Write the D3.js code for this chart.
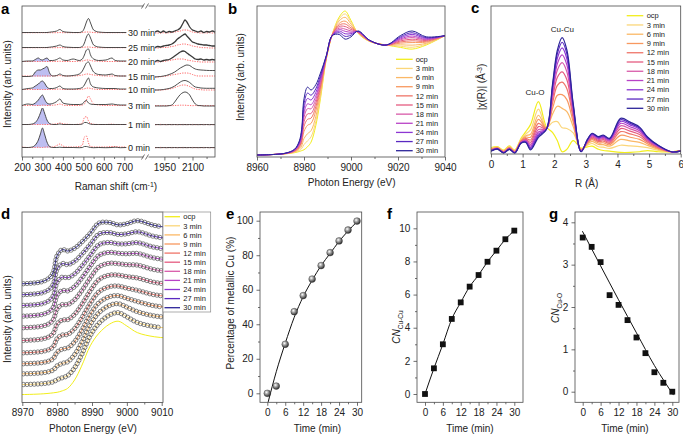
<!DOCTYPE html>
<html><head><meta charset="utf-8">
<script src="https://cdn.jsdelivr.net/npm/d3@7"></script>
<style>body{margin:0;background:#fff}svg{display:block}</style>
</head><body>
<svg id="fig" width="683" height="436"></svg>
<script>
// ---------------- DATA ----------------
const seriesLabels = ["ocp","3 min","6 min","9 min","12 min","15 min","18 min","21 min","24 min","27 min","30 min"];
const seriesColors = ["#f2ee1c","#fbd67a","#fbb866","#f8985f","#ef7569","#e55b80","#d85aa9","#b842c6","#8d36d3","#5a29c0","#2c2499"];

// Panel a: Raman
const ramanLabels = ["0 min","1 min","3 min","10 min","15 min","20 min","25 min","30 min"];
const ramanOffsets = [9, 32, 51, 67, 80, 95, 109, 124];
const ramanFilled = [true, true, true, true, true, true, false, false];
const ramanFillRange = [250, 342];
const ramanLeftTicks = [200, 300, 400, 500, 600, 700];
const ramanRightTicks = [1950, 2100];
const ramanLeftX = [200,230,250,265,280,290,300,310,322,335,350,370,385,400,420,450,480,495,505,515,525,535,550,575,610,640,655,680,710];
const ramanBlackL = [
  [0.5,0.5,1,3,8,14,20,14,6,1.5, 0.5,0.5,0.8,0.5,0.5,0.5,0.3,0.5,1.5,1.5, 1,0.5,0.3,0.5,0.3,0.5,0.8,0.3,0.5],
  [0.5,0.5,1,2.5,7,12,17,12,5,1.5, 0.5,0.5,1,0.5,0.5,0.5,0.5,1,2.5,2.5, 1.5,0.8,0.5,0.5,0.5,0.5,0.5,0.5,0.5],
  [0.5,2,1.5,3,6,9,11,7,3,2, 2.5,4.5,7,3,2,1.5,1.5,2,4.5,5.5, 3,2,1.5,1.5,1.5,2,1.5,1,1],
  [0.5,1.5,2,4,6,8,9,7,3,1.5, 1.5,2.5,4,1.5,1,1,1.5,2.5,5,9, 12,6,3,2,1.5,1.5,1.5,1,1],
  [0.5,0.5,1,5,7,7,8,9,10.5,4, 1,1.5,3,1.5,1,1.5,3,6,10,14, 15,11,5,2.5,2,3,1.5,1,1],
  [0.5,1,1,2.5,4,2.5,2,3,4,1.5, 1.5,2.5,4,2,1.5,3,1.5,3,7,12, 13,7,3,1.5,2,4,1.5,1,1],
  [0.5,0.5,0.5,0.5,0.5,0.5,0.5,0.5,0.5,0.8, 1.2,2,3,1.5,0.8,0.5,0.5,1.5,5,11, 14,10,3,1,0.5,0.5,0.5,0.5,0.5],
  [0.5,0.5,0.5,0.5,0.5,0.5,0.5,0.5,0.5,0.8, 1.2,2,3.5,1.5,0.8,0.5,0.5,1.5,5,11, 14.5,10,3,1,0.5,0.5,0.5,0.5,0.5]
];
const ramanRedL = [
  [1,0.5,0.5,0.5,0.8,0.5,0.5,0.8,1,1, 1,2.5,4,2,1,1,1.5,3,11,12, 5,1.5,1,1,1,1.5,1.5,1,1],
  [0.5,0.5,0.5,0.5,0.5,0.5,0.5,0.5,0.5,0.5, 0.8,1.2,2,1.2,0.8,0.5,0.8,2,7.5,8.5, 4,1.5,0.8,0.5,0.5,0.8,0.5,0.5,0.5],
  [0.5,0.5,0.5,0.5,0.5,0.5,0.8,0.8,0.5,0.5, 0.8,1.2,2,1,0.5,0.5,0.5,1,2,6, 10,7,2,1,0.5,0.5,0.5,0.5,0.5],
  [0.5,0.5,0.5,0.5,0.5,0.5,0.5,0.5,0.5,0.5, 0.5,0.8,1,0.5,0.5,0.5,0.5,0.8,1.2,1.8, 2,1.5,1,0.5,0.5,0.5,0.5,0.5,0.5],
  [1,1,1,1,1,1,1,1,1,1, 1,1.2,1.5,1,1,1,1.5,2,2.5,3, 3,2.5,2,1.5,1,1,1,1,1],
  [0.5,0.5,0.5,0.5,0.5,0.5,0.5,0.5,0.5,0.5, 0.5,0.6,0.8,0.5,0.5,0.5,0.8,1,1.5,2, 2,1.5,1,0.8,0.5,0.5,0.5,0.5,0.5],
  [0.3,0.3,0.3,0.3,0.3,0.3,0.3,0.3,0.3,0.3, 0.3,0.3,0.5,0.3,0.3,0.3,0.3,0.5,0.8,1, 1,0.8,0.5,0.3,0.3,0.3,0.3,0.3,0.3],
  [0.3,0.3,0.3,0.3,0.3,0.3,0.3,0.3,0.3,0.3, 0.3,0.3,0.5,0.3,0.3,0.3,0.3,0.5,0.8,1, 1,0.8,0.5,0.3,0.3,0.3,0.3,0.3,0.3]
];
const ramanRightX = [1900,1915,1930,1945,1960,1975,1990,2005,2020,2035,2050,2060,2070,2085,2100,2115,2130,2145,2160,2175,2190,2205,2220];
const ramanBlackR = [
  [0.3,0.5,0.3,0.5,0.3,0.5,0.3,0.5,0.3,0.5, 0.3,0.5,0.3,0.5,0.3,0.5,0.3,0.5,0.3,0.5, 0.3,0.5,0.3],
  [0.3,0.5,0.3,0.5,0.3,0.5,0.3,0.5,0.3,0.5, 0.3,0.5,0.3,0.5,0.3,0.5,0.3,0.5,0.3,0.5, 0.3,0.5,0.3],
  [0,0,0,0,0,0.3,1,4,8,11.5, 13.5,14,13.5,11,6,2,0.5,0.3,0,0, 0,0,0],
  [0,0,0.2,0.5,1,1.5,2.5,4,6,8, 9.3,9.5,9,7.5,5,3,2.5,2,1.8,1.7, 1.7,1.7,1.7],
  [0,0.3,0.5,1,1.5,2.5,3.5,5,7,9, 10.5,11.5,12,11.5,9.5,8,7.3,7,6.8,6.6, 6.5,6.5,6.5],
  [0.5,1.5,0.5,1.5,2,2.5,4,6,8,10, 11,10.5,9,7,5,3,2.5,3,2,2.5, 2,2.5,2],
  [0.5,1.5,1,2,2.5,3,4,6,9,11, 13,14,12,9,6,5,4,3.5,3,3, 2.5,2,2],
  [1,2,0.5,2,0.5,1.5,1,2,3,5, 10,13,11,6,3,2,1,2,0.5,1.5, 1,2,0.8]
];
const ramanRedR = [
  [0.5,0.3,0.6,0.3,0.5,0.3,0.6,0.3,0.5,0.3, 0.6,0.3,0.5,0.3,0.6,0.3,0.5,0.3,0.6,0.3, 0.5,0.3,0.6],
  [0.5,0.3,0.6,0.3,0.5,0.3,0.6,0.3,0.5,0.3, 0.6,0.3,0.5,0.3,0.6,0.3,0.5,0.3,0.6,0.3, 0.5,0.3,0.6],
  [0.3,0.5,0.3,0.5,0.3,0.5,0.3,0.5,0.6,0.8, 0.8,0.8,0.6,0.5,0.3,0.5,0.3,0.5,0.3,0.5, 0.3,0.5,0.3],
  [0,0,0,0.2,0.5,1,1.5,2.5,3.5,4.5, 5,5,4.5,3.5,2,1,0.5,0.3,0,0, 0,0,0],
  [0,0,0.3,0.5,1,1.5,2,2.5,3,3.5, 4,4,4,3.5,2.5,1.5,1,1,1,1, 1,1,1],
  [0,0,0.3,0.5,1,1.5,2,2.5,3,3, 3,2.5,2,1.5,1,0.5,0.3,0,0,0, 0,0,0],
  [0,0,0.3,0.5,0.5,1,1.5,2,3,3.5, 4,4,3.5,3,2,1.5,1,0.5,0.3,0.3, 0,0,0],
  [0,0,0,0.3,0,0.3,0.5,1,1.5,2, 3,3,3,2,1,0.5,0.3,0,0.3,0, 0.3,0,0]
];

// Panel b / d: normalized XANES
const xanesEnergy = [8960,8972,8976,8978,8979,8980,8981.5,8983,8985,8987,8989.5,8992,8995,8997.5,9000,9003,9008,9015,9021,9026,9032,9040];
const xanesSeries = [
  [0,0.01,0.02,0.03,0.037,0.045,0.07,0.11,0.25,0.48,0.82,1.03,1.18,1.23,1.15,1.04,0.97,0.94,0.92,0.905,0.94,1.02],
  [0,0.01,0.023,0.039,0.055,0.089,0.121,0.155,0.285,0.502,0.823,1.029,1.165,1.206,1.136,1.042,0.971,0.94,0.93,0.921,0.947,1.02],
  [0,0.011,0.027,0.05,0.077,0.141,0.182,0.208,0.327,0.528,0.827,1.028,1.147,1.177,1.119,1.044,0.972,0.94,0.942,0.939,0.955,1.02],
  [0,0.012,0.031,0.062,0.103,0.202,0.254,0.27,0.376,0.559,0.831,1.026,1.126,1.144,1.1,1.047,0.974,0.94,0.956,0.961,0.965,1.02],
  [0,0.012,0.034,0.071,0.121,0.245,0.305,0.315,0.411,0.581,0.834,1.025,1.111,1.12,1.086,1.049,0.975,0.94,0.966,0.976,0.972,1.02],
  [0,0.013,0.037,0.08,0.138,0.284,0.351,0.355,0.443,0.601,0.837,1.025,1.098,1.098,1.073,1.051,0.976,0.94,0.975,0.99,0.979,1.02],
  [0,0.013,0.039,0.088,0.154,0.323,0.396,0.395,0.474,0.621,0.839,1.024,1.084,1.076,1.06,1.053,0.976,0.94,0.984,1.004,0.985,1.02],
  [0,0.014,0.042,0.095,0.169,0.358,0.437,0.43,0.502,0.638,0.842,1.023,1.072,1.057,1.049,1.054,0.977,0.94,0.992,1.017,0.99,1.02],
  [0,0.014,0.044,0.103,0.185,0.397,0.483,0.47,0.534,0.658,0.844,1.022,1.059,1.036,1.037,1.056,0.978,0.94,1.001,1.031,0.997,1.02],
  [0,0.015,0.047,0.111,0.202,0.437,0.529,0.511,0.565,0.678,0.847,1.021,1.045,1.014,1.024,1.058,0.979,0.94,1.01,1.045,1.003,1.02],
  [0,0.015,0.05,0.12,0.22,0.48,0.58,0.555,0.6,0.7,0.85,1.02,1.03,0.99,1.01,1.06,0.98,0.94,1.02,1.06,1.01,1.02]
];
const xanesBTicks = [8960, 8980, 9000, 9020, 9040];
const xanesDTicks = [8970, 8980, 8990, 9000, 9010];
const xanesDOffsets = [0, 0.167, 0.345, 0.512, 0.695, 0.9, 1.112, 1.305, 1.483, 1.662, 1.845];

// Panel c: FT-EXAFS
const exafsR = [0,0.2,0.4,0.58,0.75,0.95,1.1,1.25,1.5,1.75,1.95,2.1,2.25,2.4,2.6,2.85,3.05,3.2,3.4,3.55,3.75,4.1,4.4,4.7,4.95,5.3,5.7,6.0];
const exafsSeries = [
  [0.43,0.51,0.24,0.57,0.24,1.19,1.73,2.3,4.16,2.13,1.65,1.0,0.1,0.3,1.0,0.4,0.5,0.55,0.3,0.2,0.15,0.05,0.05,0.1,0.2,0.1,0.1,0.2],
  [0.37,0.47,0.19,0.51,0.19,1.11,1.55,1.87,3.55,2.08,2.49,2.54,2.04,1.99,1.63,0.34,0.63,0.77,0.51,0.47,0.37,0.63,0.57,0.52,0.43,0.21,0.1,0.19],
  [0.32,0.44,0.15,0.47,0.15,1.04,1.40,1.52,3.06,2.04,3.17,3.79,3.62,3.36,2.14,0.29,0.73,0.95,0.69,0.68,0.55,1.10,0.98,0.86,0.62,0.29,0.1,0.18],
  [0.29,0.42,0.12,0.44,0.12,0.99,1.29,1.28,2.72,2.02,3.65,4.68,4.73,4.33,2.5,0.25,0.8,1.08,0.81,0.83,0.67,1.43,1.28,1.1,0.75,0.35,0.1,0.18],
  [0.26,0.39,0.09,0.41,0.09,0.95,1.19,1.05,2.40,1.99,4.09,5.48,5.74,5.21,2.83,0.22,0.87,1.19,0.92,0.97,0.78,1.73,1.55,1.32,0.87,0.41,0.1,0.17],
  [0.23,0.38,0.07,0.38,0.07,0.91,1.11,0.87,2.14,1.97,4.45,6.15,6.58,5.94,3.1,0.19,0.92,1.29,1.01,1.08,0.88,1.98,1.77,1.5,0.97,0.45,0.1,0.17],
  [0.21,0.36,0.05,0.36,0.05,0.88,1.04,0.70,1.91,1.95,4.77,6.73,7.32,6.58,3.34,0.17,0.97,1.37,1.10,1.18,0.96,2.20,1.96,1.66,1.06,0.49,0.1,0.16],
  [0.19,0.35,0.04,0.34,0.04,0.85,0.98,0.56,1.70,1.93,5.05,7.25,7.96,7.14,3.55,0.15,1.01,1.44,1.17,1.27,1.03,2.40,2.13,1.8,1.14,0.53,0.1,0.16],
  [0.18,0.34,0.02,0.32,0.02,0.83,0.93,0.43,1.53,1.92,5.29,7.69,8.52,7.63,3.73,0.13,1.05,1.51,1.23,1.35,1.10,2.56,2.28,1.92,1.20,0.56,0.1,0.15],
  [0.16,0.33,0.01,0.31,0.01,0.81,0.89,0.33,1.39,1.91,5.49,8.06,8.98,8.03,3.88,0.11,1.08,1.56,1.28,1.41,1.15,2.70,2.40,2.02,1.26,0.58,0.1,0.15],
  [0.15,0.32,0.0,0.3,0.0,0.79,0.85,0.25,1.27,1.9,5.65,8.35,9.35,8.35,4.0,0.1,1.1,1.6,1.32,1.46,1.19,2.81,2.5,2.1,1.3,0.6,0.1,0.15]
];
const exafsTicks = [0,1,2,3,4,5,6];

// Panels e-g: kinetics
const timesMin = [0,3,6,9,12,15,18,21,24,27,30];
const metallicPct = [0,4.2,28.4,47.3,56.6,66.2,74,81.5,88.3,94.6,99.8];
const metallicFitT = [0.3,3,6,9,12,15,18,21,24,27,30];
const metallicFitV = [-5,12.5,29,44,56,65.5,74,81,88,94,99.4];
const cnCuCu = [0,1.55,3.0,4.53,5.53,6.48,7.18,7.98,8.65,9.34,9.86];
const cnCuO = [3.64,3.42,3.06,2.28,2.05,1.69,1.28,0.91,0.46,0.21,0.0];
const cnCuOFitT = [-0.1,6,12,18,24,30.4];
const cnCuOFitV = [3.79,2.97,2.17,1.39,0.62,-0.08];
const timeTicks = [0,6,12,18,24,30];
const timeMinor = [3,9,15,21,27];

// ---------------- DRAWING ----------------
const F = '"Liberation Sans", Arial, Helvetica, sans-serif';
const svg = d3.select("#fig");
const defs = svg.append("defs");

function box(g, x0, y0, x1, y1) {
  g.append("rect").attr("x", x0).attr("y", y0).attr("width", x1 - x0).attr("height", y1 - y0)
    .attr("fill", "none").attr("stroke", "#4a4a4a").attr("stroke-width", 0.8);
}
function styleAxis(a) {
  a.select(".domain").remove();
  a.selectAll("line").attr("stroke", "#4a4a4a").attr("stroke-width", 0.8);
  a.selectAll("text").attr("font-family", F).attr("font-size", 10).attr("fill", "#222");
}
function xAxis(g, scale, y, majors, minors) {
  const a = g.append("g").attr("transform", `translate(0,${y})`)
    .call(d3.axisBottom(scale).tickValues(majors).tickSize(3.5).tickPadding(3).tickFormat(d3.format("d")));
  styleAxis(a);
  if (minors) {
    const m = g.append("g").attr("transform", `translate(0,${y})`)
      .call(d3.axisBottom(scale).tickValues(minors).tickSize(2).tickFormat(""));
    styleAxis(m);
  }
}
function yAxis(g, scale, x, majors, minors, fmt) {
  const a = g.append("g").attr("transform", `translate(${x},0)`)
    .call(d3.axisLeft(scale).tickValues(majors).tickSize(3.5).tickPadding(3.2).tickFormat(fmt || d3.format("d")));
  styleAxis(a);
  if (minors) {
    const m = g.append("g").attr("transform", `translate(${x},0)`)
      .call(d3.axisLeft(scale).tickValues(minors).tickSize(2).tickFormat(""));
    styleAxis(m);
  }
}
function label(g, x, y, s, size, opts = {}) {
  const t = g.append("text").attr("x", x).attr("y", y).attr("font-family", F)
    .attr("font-size", size).attr("fill", opts.fill || "#222")
    .attr("text-anchor", opts.anchor || "start");
  if (opts.bold) t.attr("font-weight", "bold");
  if (opts.rotate) t.attr("transform", `rotate(-90,${x},${y})`);
  t.text(s);
  return t;
}
function legend(g, x0, x1, xt, y0, dy) {
  seriesLabels.forEach((s, i) => {
    const y = y0 + i * dy;
    g.append("line").attr("x1", x0).attr("x2", x1).attr("y1", y).attr("y2", y)
      .attr("stroke", seriesColors[i]).attr("stroke-width", 1.3);
    label(g, xt, y + 2.7, s, 7.5);
  });
}

// ===== Panel a =====
const gA = svg.append("g");
const axL = d3.scaleLinear().domain([200, 700]).range([22, 124.3]);
const axR = d3.scaleLinear().domain([1900, 2220]).range([155, 215]);
const ayA = d3.scaleLinear().domain([0, 150]).range([157, 7]);
defs.append("clipPath").attr("id", "clipFillA").append("rect")
  .attr("x", axL(ramanFillRange[0])).attr("y", 0)
  .attr("width", axL(ramanFillRange[1]) - axL(ramanFillRange[0])).attr("height", 160);
ramanLabels.forEach((lab, i) => {
  const off = ramanOffsets[i];
  const lineL = d3.line().x((d, j) => axL(ramanLeftX[j])).y(d => ayA(off + d)).curve(d3.curveMonotoneX);
  const lineR = d3.line().x((d, j) => axR(ramanRightX[j])).y(d => ayA(off + d)).curve(d3.curveMonotoneX);
  if (ramanFilled[i]) {
    const area = d3.area().x((d, j) => axL(ramanLeftX[j])).y0(ayA(off + 0.5)).y1(d => ayA(off + d)).curve(d3.curveMonotoneX);
    gA.append("path").attr("d", area(ramanBlackL[i])).attr("fill", "#b7b7f0").attr("opacity", 0.9)
      .attr("clip-path", "url(#clipFillA)");
  }
  [[lineL, ramanRedL[i]], [lineR, ramanRedR[i]]].forEach(([ln, dat]) => {
    gA.append("path").attr("d", ln(dat)).attr("fill", "none").attr("stroke", "#ff5b5b")
      .attr("stroke-width", 0.9).attr("stroke-dasharray", "1.3,1.2");
  });
  const noisy = i >= 5;
  [[lineL, ramanBlackL[i]], [lineR, ramanBlackR[i]]].forEach(([ln, dat], k) => {
    gA.append("path").attr("d", ln(dat)).attr("fill", "none").attr("stroke", "#3a3a3a")
      .attr("stroke-width", (noisy && k === 1) ? 1.3 : 0.9);
  });
  label(gA, 128, ayA(off) + 3.2, lab, 9);
});
box(gA, 22, 6, 215, 157);
// axis break
gA.append("rect").attr("x", 143.5).attr("y", 3).attr("width", 5).attr("height", 6).attr("fill", "#fff");
gA.append("rect").attr("x", 143.5).attr("y", 154).attr("width", 5).attr("height", 6).attr("fill", "#fff");
[6, 157].forEach(yb => {
  [141.5, 145.5].forEach(xb => {
    gA.append("line").attr("x1", xb).attr("y1", yb + 2.5).attr("x2", xb + 3).attr("y2", yb - 2.5)
      .attr("stroke", "#4a4a4a").attr("stroke-width", 0.8);
  });
});
xAxis(gA, axL, 157, ramanLeftTicks, [250, 350, 450, 550, 650]);
xAxis(gA, axR, 157, ramanRightTicks, [2025, 2175]);
const ta = label(gA, 116, 190, "Raman shift (cm", 10, { anchor: "middle" });
ta.append("tspan").attr("baseline-shift", "super").attr("font-size", 7).text("-1");
ta.append("tspan").text(")");
label(gA, 11, 84, "Intensity (arb. units)", 10, { anchor: "middle", rotate: true });
label(gA, 1, 14, "a", 15, { bold: true, fill: "#000" });

// ===== Panel b =====
const gB = svg.append("g");
const bx = d3.scaleLinear().domain([8960, 9040]).range([257, 445]);
const by = d3.scaleLinear().domain([0, 1]).range([155, 38]);
const lineB = d3.line().x((d, j) => bx(xanesEnergy[j])).y(d => by(d)).curve(d3.curveCatmullRom.alpha(0.5));
xanesSeries.forEach((s, i) => {
  gB.append("path").attr("d", lineB(s)).attr("fill", "none").attr("stroke", seriesColors[i]).attr("stroke-width", 1);
});
box(gB, 257, 6, 445, 157);
xAxis(gB, bx, 157, xanesBTicks, [8970, 8990, 9010, 9030]);
legend(gB, 396, 412.7, 415.7, 59.3, 9.14);
label(gB, 351.7, 186, "Photon Energy (eV)", 10, { anchor: "middle" });
label(gB, 244, 77, "Intensity (arb. units)", 10, { anchor: "middle", rotate: true });
label(gB, 228, 14, "b", 15, { bold: true, fill: "#000" });

// ===== Panel c =====
const gC = svg.append("g");
const cx = d3.scaleLinear().domain([0, 6]).range([491, 680.7]);
const cy = d3.scaleLinear().domain([0, 12]).range([153, 5]);
defs.append("clipPath").attr("id", "clipC").append("rect").attr("x", 491).attr("y", 6).attr("width", 190).attr("height", 148);
const lineC = d3.line().x((d, j) => cx(exafsR[j])).y(d => cy(d)).curve(d3.curveCatmullRom.alpha(0.5));
exafsSeries.forEach((s, i) => {
  gC.append("path").attr("d", lineC(s)).attr("fill", "none").attr("stroke", seriesColors[i])
    .attr("stroke-width", 1.2).attr("clip-path", "url(#clipC)");
});
box(gC, 491, 6, 680.7, 154);
xAxis(gC, cx, 154, exafsTicks, [0.5, 1.5, 2.5, 3.5, 4.5, 5.5]);
legend(gC, 626.7, 643.3, 646.7, 15.7, 9.26);
label(gC, 535, 95, "Cu-O", 8, { anchor: "middle" });
label(gC, 562.3, 32, "Cu-Cu", 8, { anchor: "middle" });
label(gC, 586.7, 187, "R (Å)", 10, { anchor: "middle" });
const tc = label(gC, 485, 87, "|χ(R)| (Å", 10, { anchor: "middle", rotate: true });
tc.append("tspan").attr("baseline-shift", "super").attr("font-size", 7).text("-3");
tc.append("tspan").text(")");
label(gC, 471, 13, "c", 15, { bold: true, fill: "#000" });

// ===== Panel d =====
const gD = svg.append("g");
const dx = d3.scaleLinear().domain([8970, 9010]).range([22.3, 161.7]);
const dy = d3.scaleLinear().domain([0, 3.05]).range([395, 212]);
defs.append("clipPath").attr("id", "clipD").append("rect").attr("x", 22).attr("y", 212).attr("width", 141).attr("height", 191);
const dPlot = gD.append("g").attr("clip-path", "url(#clipD)");
xanesSeries.forEach((s, i) => {
  const off = xanesDOffsets[i];
  const ln = d3.line().x((d, j) => dx(xanesEnergy[j])).y(d => dy(d + off)).curve(d3.curveCatmullRom.alpha(0.5));
  const p = dPlot.append("path").attr("d", ln(s)).attr("fill", "none").attr("stroke", seriesColors[i]).attr("stroke-width", 1);
  if (i > 0) {
    const node = p.node();
    const L = node.getTotalLength();
    const pts = [];
    for (let t = 0; t <= L; t += 3.6) {
      const q = node.getPointAtLength(t);
      if (q.x >= 22.8 && q.x <= 161.5) pts.push(q);
    }
    dPlot.selectAll(null).data(pts).enter().append("circle")
      .attr("cx", q => q.x).attr("cy", q => q.y).attr("r", 2.15)
      .attr("fill", "none").attr("stroke", "#474747").attr("stroke-width", 0.65);
  }
});
box(gD, 22, 212, 163, 402.5);
gD.append("rect").attr("x", 163).attr("y", 212).attr("width", 47.7).attr("height", 100)
  .attr("fill", "#fff").attr("stroke", "#8a8a8a").attr("stroke-width", 0.7);
legend(gD, 164.5, 180, 183.3, 216.7, 9.1);
xAxis(gD, dx, 402.5, xanesDTicks, [8975, 8985, 8995, 9005]);
label(gD, 93, 432, "Photon Energy (eV)", 10, { anchor: "middle" });
label(gD, 11, 319, "Intensity (arb. units)", 10, { anchor: "middle", rotate: true });
label(gD, 1, 219, "d", 15, { bold: true, fill: "#000" });

// ===== Panel e =====
const gE = svg.append("g");
const ex = d3.scaleLinear().domain([0, 30]).range([267.3, 357]);
const ey = d3.scaleLinear().domain([0, 100]).range([393.3, 220.7]);
defs.append("clipPath").attr("id", "clipE").append("rect").attr("x", 260).attr("y", 212).attr("width", 101.7).attr("height", 190.3);
const grad = defs.append("radialGradient").attr("id", "ball").attr("cx", "38%").attr("cy", "35%").attr("r", "65%");
grad.append("stop").attr("offset", "0%").attr("stop-color", "#ffffff");
grad.append("stop").attr("offset", "45%").attr("stop-color", "#9a9a9a");
grad.append("stop").attr("offset", "100%").attr("stop-color", "#2e2e2e");
const fitE = d3.line().x((d, j) => ex(metallicFitT[j])).y(d => ey(d)).curve(d3.curveMonotoneX);
gE.append("path").attr("d", fitE(metallicFitV)).attr("fill", "none").attr("stroke", "#111")
  .attr("stroke-width", 1).attr("clip-path", "url(#clipE)");
gE.selectAll(null).data(metallicPct).enter().append("circle")
  .attr("cx", (d, j) => ex(timesMin[j])).attr("cy", d => ey(d)).attr("r", 3.4)
  .attr("fill", "url(#ball)").attr("stroke", "#333").attr("stroke-width", 0.4);
box(gE, 260, 212, 361.7, 402.3);
xAxis(gE, ex, 402.3, timeTicks, timeMinor);
yAxis(gE, ey, 260, [0, 20, 40, 60, 80, 100], [10, 30, 50, 70, 90]);
label(gE, 317.5, 432, "Time (min)", 10, { anchor: "middle" });
label(gE, 234, 303, "Percentage of metallic Cu (%)", 10, { anchor: "middle", rotate: true });
label(gE, 226, 219, "e", 15, { bold: true, fill: "#000" });

// ===== Panel f =====
const gF = svg.append("g");
const fx = d3.scaleLinear().domain([0, 30]).range([425, 514.3]);
const fy = d3.scaleLinear().domain([0, 10]).range([394, 228.3]);
const lineF = d3.line().x((d, j) => fx(timesMin[j])).y(d => fy(d)).curve(d3.curveMonotoneX);
gF.append("path").attr("d", lineF(cnCuCu)).attr("fill", "none").attr("stroke", "#111").attr("stroke-width", 1);
gF.selectAll(null).data(cnCuCu).enter().append("rect")
  .attr("x", (d, j) => fx(timesMin[j]) - 2.9).attr("y", d => fy(d) - 2.9)
  .attr("width", 5.8).attr("height", 5.8).attr("fill", "#111");
box(gF, 417, 212, 523, 402.3);
xAxis(gF, fx, 402.3, timeTicks, timeMinor);
yAxis(gF, fy, 417, [0, 2, 4, 6, 8, 10], [1, 3, 5, 7, 9]);
label(gF, 470, 432, "Time (min)", 10, { anchor: "middle" });
const tf = gF.append("text").attr("x", 400).attr("y", 327).attr("font-family", F).attr("font-size", 10)
  .attr("fill", "#222").attr("text-anchor", "middle").attr("transform", "rotate(-90,400,327)");
tf.append("tspan").attr("font-style", "italic").text("CN");
tf.append("tspan").attr("font-size", 6.5).attr("dy", 2.5).text("Cu-Cu");
label(gF, 387, 219, "f", 15, { bold: true, fill: "#000" });

// ===== Panel g =====
const gG = svg.append("g");
const gx = d3.scaleLinear().domain([0, 30]).range([582.7, 672.3]);
const gy = d3.scaleLinear().domain([0, 4]).range([391.7, 222.3]);
const fitG = d3.line().x((d, j) => gx(cnCuOFitT[j])).y(d => gy(d)).curve(d3.curveMonotoneX);
gG.append("path").attr("d", fitG(cnCuOFitV)).attr("fill", "none").attr("stroke", "#111").attr("stroke-width", 1);
gG.selectAll(null).data(cnCuO).enter().append("rect")
  .attr("x", (d, j) => gx(timesMin[j]) - 2.9).attr("y", d => gy(d) - 2.9)
  .attr("width", 5.8).attr("height", 5.8).attr("fill", "#111");
box(gG, 575, 212, 679, 402.3);
xAxis(gG, gx, 402.3, timeTicks, timeMinor);
yAxis(gG, gy, 575, [0, 1, 2, 3, 4], [0.5, 1.5, 2.5, 3.5]);
label(gG, 625, 432, "Time (min)", 10, { anchor: "middle" });
const tg = gG.append("text").attr("x", 559).attr("y", 308).attr("font-family", F).attr("font-size", 10)
  .attr("fill", "#222").attr("text-anchor", "middle").attr("transform", "rotate(-90,559,308)");
tg.append("tspan").attr("font-style", "italic").text("CN");
tg.append("tspan").attr("font-size", 6.5).attr("dy", 2.5).text("Cu-O");
label(gG, 549, 219, "g", 15, { bold: true, fill: "#000" });
</script>
</body></html>
